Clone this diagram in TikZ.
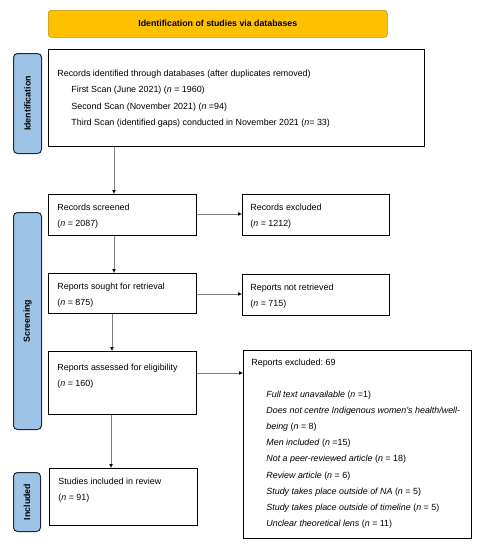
\documentclass[tikz,border=0pt]{standalone}
\usepackage{fontspec}
\setmainfont{Liberation Sans}
\usetikzlibrary{arrows.meta}
\frenchspacing
\definecolor{hdrfill}{HTML}{FFC000}
\definecolor{hdrdraw}{HTML}{BF9000}
\definecolor{sidefill}{HTML}{9DC3E6}
\definecolor{sidedraw}{HTML}{1F2A38}
\definecolor{arrgray}{HTML}{7F7F7F}
\newcommand\boxtext[5]{\begin{minipage}[c][#2][t]{#1}\frenchspacing\raggedright\setlength\leftskip{#4}\rule{0pt}{#3}#5\end{minipage}}
\tikzset{
  flowbox/.style={draw=black, line width=0.8pt, inner sep=0pt, anchor=north west, font=\fontsize{8.9}{16}\selectfont},
  sidebox/.style={draw=sidedraw, fill=sidefill, line width=1pt, rounded corners=4pt, inner sep=0pt, anchor=north west},
  sidetext/.style={rotate=90, font=\bfseries\fontsize{8.8}{10}\selectfont},
  hdrbox/.style={draw=hdrdraw, fill=hdrfill, line width=0.6pt, rounded corners=3pt, inner sep=0pt, anchor=north west, font=\bfseries\fontsize{8.8}{10}\selectfont},
  arr/.style={draw=arrgray, line width=0.8pt, -{Latex[length=4pt,width=4pt,color=black]}}
}
\begin{document}
\begin{tikzpicture}[x=1pt,y=-1pt]
\useasboundingbox[fill=white] (0,0) rectangle (480,550);
% header
\node[hdrbox, minimum width=339pt, minimum height=27pt] (hdr) at (48,10) {Identification of studies via databases};
% side labels
\node[sidebox, minimum width=28pt, minimum height=100pt] (sid) at (13,53) {};
\node[sidetext] (sidt) at (sid.center) {Identification};
\node[sidebox, minimum width=28pt, minimum height=217pt] (ssc) at (13,212) {};
\node[sidetext] (ssct) at (ssc.center) {Screening};
\node[sidebox, minimum width=27pt, minimum height=59pt] (sin) at (13,472) {};
\node[sidetext] (sint) at (sin.center) {Included};
% boxes
\node[flowbox, font=\fontsize{8.9}{16.3}\selectfont] (ident) at (48,49) {\boxtext{376pt}{97pt}{27pt}{9pt}{Records identified through databases (after duplicates removed)\\
\hspace*{14pt}First Scan (June 2021) (\textit{n} = 1960)\\
\hspace*{14pt}Second Scan (November 2021) (\textit{n} =94)\\
\hspace*{14pt}Third Scan (identified gaps) conducted in November 2021 (\textit{n}= 33)}};
\node[flowbox] (scr) at (48,194) {\boxtext{148pt}{41pt}{16pt}{9pt}{Records screened\\(\textit{n} = 2087)}};
\node[flowbox] (exa) at (242,194) {\boxtext{147pt}{41pt}{16pt}{8pt}{Records excluded\\(\textit{n} = 1212)}};
\node[flowbox] (sgt) at (48,273) {\boxtext{148pt}{40pt}{16pt}{9pt}{Reports sought for retrieval\\(\textit{n} = 875)}};
\node[flowbox] (nrt) at (242,274) {\boxtext{147pt}{41pt}{16pt}{8pt}{Reports not retrieved\\(\textit{n} = 715)}};
\node[flowbox, font=\fontsize{8.9}{16.5}\selectfont] (asd) at (48,351) {\boxtext{148pt}{63pt}{19pt}{9pt}{Reports assessed for eligibility\\(\textit{n} = 160)}};
\node[flowbox] (inc) at (49,468) {\boxtext{148pt}{57pt}{16pt}{9pt}{Studies included in review\\(\textit{n} = 91)}};
\node[flowbox, font=\fontsize{8.9}{16.1}\selectfont] (exb) at (243,350) {\boxtext{228pt}{188pt}{15pt}{8pt}{Reports excluded: 69\\[16pt]
\hspace*{15pt}\textit{Full text unavailable} (\textit{n} =1)\\
\hspace*{15pt}\textit{Does not centre Indigenous women's health/well-}\\
\hspace*{15pt}\textit{being} (\textit{n} = 8)\\
\hspace*{15pt}\textit{Men included} (\textit{n} =15)\\
\hspace*{15pt}\textit{Not a peer-reviewed article} (\textit{n} = 18)\\
\hspace*{15pt}\textit{Review article} (\textit{n} = 6)\\
\hspace*{15pt}\textit{Study takes place outside of NA} (\textit{n} = 5)\\
\hspace*{15pt}\textit{Study takes place outside of timeline} (\textit{n} = 5)\\
\hspace*{15pt}\textit{Unclear theoretical lens} (\textit{n} = 11)}};
% connectors
\draw[arr] ([xshift=66pt]ident.south west) -- ([xshift=66pt]scr.north west);
\draw[arr] ([xshift=66pt]scr.south west) -- ([xshift=66pt]sgt.north west);
\draw[arr] ([xshift=64pt]sgt.south west) -- ([xshift=64pt]asd.north west);
\draw[arr] ([xshift=63pt]asd.south west) -- ([xshift=62pt]inc.north west);
\draw[arr] ([yshift=-20pt]scr.north east) coordinate (h1) -- (h1 -| exa.west);
\draw[arr] ([yshift=-21pt]sgt.north east) coordinate (h2) -- (h2 -| nrt.west);
\draw[arr] ([yshift=-22pt]asd.north east) coordinate (h3) -- (h3 -| exb.west);
\end{tikzpicture}
\end{document}
